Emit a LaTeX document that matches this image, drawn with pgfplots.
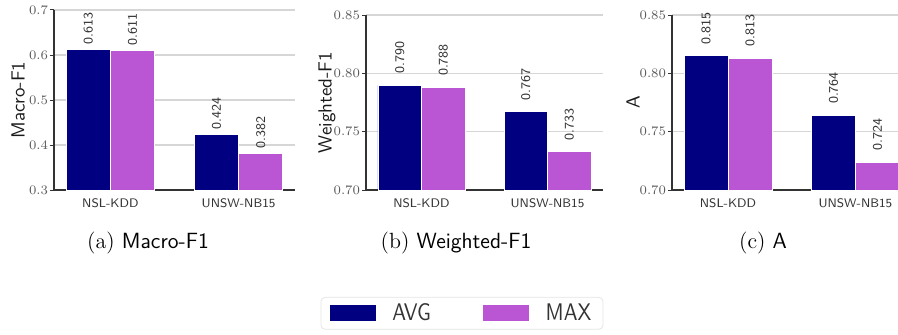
\documentclass[border=0pt]{standalone}
\usepackage{fontspec}
\usepackage{pgfplots}
\pgfplotsset{compat=1.18}
\newfontfamily\legfont{lmsans10-regular.otf}[FakeStretch=0.86]
\definecolor{avg}{HTML}{000080}
\definecolor{mx}{HTML}{BA55D3}
\definecolor{gridc}{HTML}{D6D6D6}
\definecolor{axc}{HTML}{333333}
\definecolor{tickc}{HTML}{5A5A5A}
\newcommand{\fs}[1]{\fontsize{#1}{#1}\selectfont}
\pgfplotsset{
  common/.style={
    scale only axis,
    anchor=south west,
    xmin=-0.44, xmax=1.44,
    xtick={0,1}, xticklabels={NSL-KDD,UNSW-NB15},
    axis x line*=bottom, axis y line*=left,
    axis line style={axc, line width=0.6pt},
    tick align=outside, major tick length=2pt,
    xtick style={draw=none},
    ytick style={axc, line width=0.5pt},
    ymajorgrids, grid style={gridc, line width=0.6pt},
    /pgf/number format/assume math mode=true,
    yticklabel style={font=\rmfamily\fs{6.5}, text=tickc, inner xsep=0.8pt},
    xticklabel style={font=\sffamily\fs{6.2}, text=axc, inner sep=2pt},
    ylabel style={font=\sffamily\fs{9.5}, text=black!90, anchor=center},
    nodes near coords={\sffamily\fs{6.6}\pgfmathprintnumber[fixed,fixed zerofill,precision=3,assume math mode=true]{\pgfplotspointmeta}},
    every node near coord/.append style={text=axc, rotate=90, anchor=west, inner ysep=0pt},
    clip=false,
  },
  avgbar/.style={ybar, bar width=0.345, bar shift=0pt, fill=avg, draw=white, line width=0.4pt},
  maxbar/.style={ybar, bar width=0.345, bar shift=0pt, fill=mx, draw=white, line width=0.4pt},
  legrect/.style={legend image code/.code={\draw[##1, sharp corners] (0pt,-4.25pt) rectangle (23.5pt,4.25pt); \path (29.5pt,0pt);}},
}
\begin{document}
\begin{tikzpicture}
% (a)
\begin{axis}[common, at={(27pt,72pt)}, width=120.5pt, height=90pt,
  ymin=0.3, ymax=0.7, ytick={0.3,0.4,0.5,0.6,0.7},
  yticklabel style={/pgf/number format/.cd, fixed, fixed zerofill, precision=1},
  ylabel={Macro-F1}, ylabel style={at={(axis description cs:-0.149,0.5)}},
  every node near coord/.append style={inner xsep=2pt}]
\addplot[avgbar] coordinates {(-0.1725,0.613) (0.8275,0.424)};
\addplot[maxbar] coordinates {(0.1725,0.611) (1.1725,0.382)};
\end{axis}
% (b)
\begin{axis}[common, at={(183pt,72pt)}, width=118.5pt, height=87.5pt,
  ymin=0.70, ymax=0.85, ytick={0.70,0.75,0.80,0.85},
  yticklabel style={/pgf/number format/.cd, fixed, fixed zerofill, precision=2},
  ylabel={Weighted-F1}, ylabel style={at={(axis description cs:-0.165,0.5)}},
  every node near coord/.append style={inner xsep=5.5pt},
  legend style={at={(0.405,-0.611)}, anchor=north, legend columns=2,
    draw=gray!20, rounded corners=2pt, fill=white,
    font=\legfont\fs{12}, text=axc, inner xsep=3.8pt, inner ysep=1pt,
    /tikz/every even column/.append style={column sep=23.5pt}},
  ]
\addlegendimage{legrect, fill=avg, draw=white, line width=0.4pt}
\addlegendimage{legrect, fill=mx, draw=white, line width=0.4pt}
\addplot[avgbar] coordinates {(-0.1725,0.790) (0.8275,0.767)};
\addplot[maxbar] coordinates {(0.1725,0.788) (1.1725,0.733)};
\legend{AVG,MAX}
\end{axis}
% (c)
\begin{axis}[common, at={(336pt,72pt)}, width=119.75pt, height=87.5pt,
  ymin=0.70, ymax=0.85, ytick={0.70,0.75,0.80,0.85},
  yticklabel style={/pgf/number format/.cd, fixed, fixed zerofill, precision=2},
  ylabel={A}, ylabel style={at={(axis description cs:-0.163,0.5)}},
  every node near coord/.append style={inner xsep=5.5pt}]
\addplot[avgbar] coordinates {(-0.1725,0.815) (0.8275,0.764)};
\addplot[maxbar] coordinates {(0.1725,0.813) (1.1725,0.724)};
\end{axis}
% captions
\node[font=\fs{11}] at (74pt,45.5pt) {(a) \sffamily Macro-F1};
\node[font=\fs{11}] at (228pt,45.5pt) {(b) \sffamily Weighted-F1};
\node[font=\fs{11}] at (381.5pt,45.5pt) {(c) \sffamily A};
\pgfresetboundingbox
\path[use as bounding box] (0,0) rectangle (449pt,167pt);
\end{tikzpicture}
\end{document}
